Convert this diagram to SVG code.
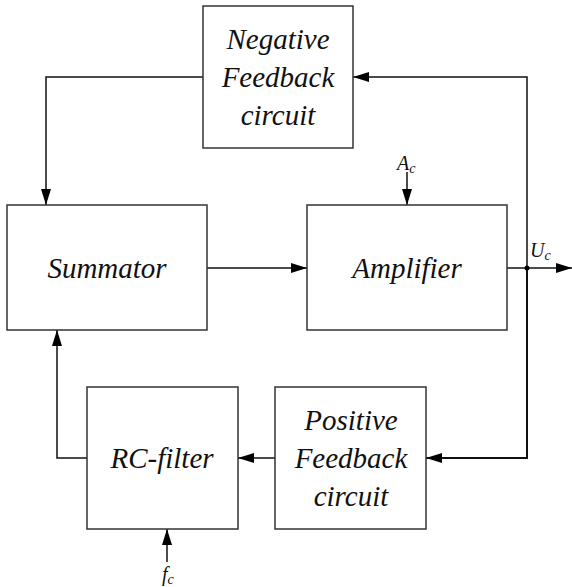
<svg xmlns="http://www.w3.org/2000/svg" width="572" height="587" viewBox="0 0 572 587">
  <style>
    .box { fill: #fff; stroke: #333; stroke-width: 1.5; }
    text { font-family: 'Liberation Serif', 'Times New Roman', serif; font-style: italic; fill: #111; }
    .lbl { font-size: 29px; text-anchor: middle; }
    .sym { font-size: 20px; }
    .sub { font-size: 14px; }
    .wire { fill: none; stroke: #111; stroke-width: 1.5; }
    .bus { fill: none; stroke: #111; stroke-width: 2; }
  </style>
  <defs>
    <marker id="arr" viewBox="0 0 16 10" refX="16" refY="5" markerWidth="16" markerHeight="10" markerUnits="userSpaceOnUse" orient="auto">
      <path d="M0,0 L16,5 L0,10 Z" fill="#000"/>
    </marker>
  </defs>

  <g id="connectors">
    <!-- Summator to Amplifier -->
    <path class="wire" d="M207,268 H307" marker-end="url(#arr)"/>
    <!-- Amplifier output -->
    <path class="wire" d="M507,268 H572" marker-end="url(#arr)"/>
    <!-- Output tap up to negative feedback -->
    <path class="wire" d="M527,268 V77 H353" marker-end="url(#arr)"/>
    <!-- Negative feedback to Summator -->
    <path class="wire" d="M203,77 H46 V205" marker-end="url(#arr)"/>
    <!-- Output tap down to positive feedback -->
    <path class="bus" d="M527,268 V458 H426" marker-end="url(#arr)"/>
    <!-- Positive feedback to RC-filter -->
    <path class="wire" d="M275,458 H238" marker-end="url(#arr)"/>
    <!-- RC-filter to Summator -->
    <path class="wire" d="M87,458 H57 V330" marker-end="url(#arr)"/>
    <!-- Ac input -->
    <path class="wire" d="M407,172 V205" marker-end="url(#arr)"/>
    <!-- fc input -->
    <path class="wire" d="M167,562 V529" marker-end="url(#arr)"/>
    <circle cx="527" cy="268" r="2.5" fill="#000"/>
  </g>

  <g id="negative-feedback">
    <rect class="box" x="203" y="6" width="150" height="142"/>
    <text class="lbl" x="278" y="49">Negative</text>
    <text class="lbl" x="278" y="87">Feedback</text>
    <text class="lbl" x="278" y="125">circuit</text>
  </g>

  <g id="summator">
    <rect class="box" x="7" y="205" width="200" height="125"/>
    <text class="lbl" x="107" y="278">Summator</text>
  </g>

  <g id="amplifier">
    <rect class="box" x="307" y="205" width="200" height="125"/>
    <text class="lbl" x="407" y="278">Amplifier</text>
  </g>

  <g id="rc-filter">
    <rect class="box" x="87" y="387" width="151" height="142"/>
    <text class="lbl" x="162" y="468">RC-filter</text>
  </g>

  <g id="positive-feedback">
    <rect class="box" x="275" y="387" width="151" height="142"/>
    <text class="lbl" x="351" y="430">Positive</text>
    <text class="lbl" x="351" y="468">Feedback</text>
    <text class="lbl" x="351" y="506">circuit</text>
  </g>

  <g id="labels">
    <text class="sym" x="397" y="170">A<tspan class="sub" dy="3">c</tspan></text>
    <text class="sym" x="530" y="257">U<tspan class="sub" dy="3">c</tspan></text>
    <text class="sym" x="162" y="581">f<tspan class="sub" dy="3">c</tspan></text>
  </g>
</svg>
